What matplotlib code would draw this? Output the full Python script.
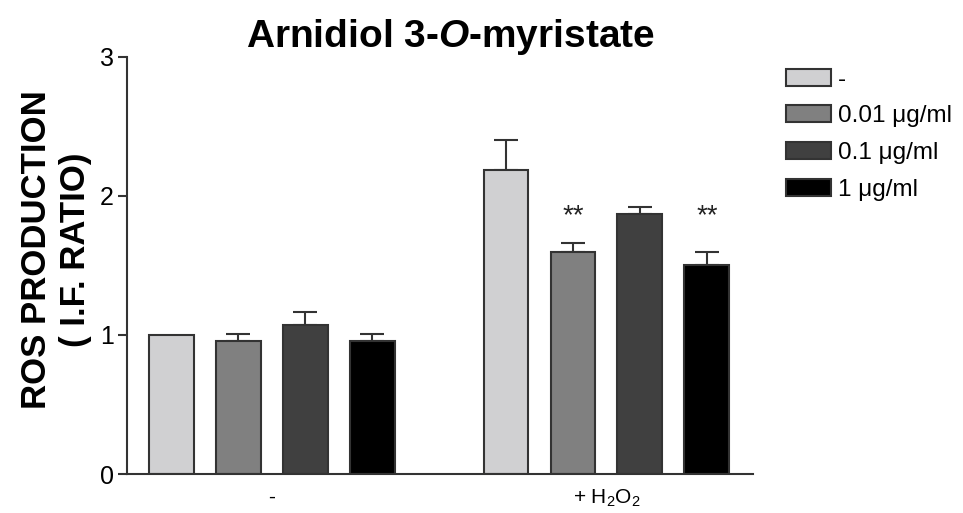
import matplotlib
matplotlib.use("Agg")
import matplotlib.pyplot as plt
from matplotlib.patches import Patch

plt.rcParams['font.family'] = ['Liberation Sans', 'DejaVu Sans']
plt.rcParams['mathtext.fontset'] = 'custom'
plt.rcParams['mathtext.rm'] = 'Liberation Sans'
plt.rcParams['mathtext.it'] = 'Liberation Sans:italic'
plt.rcParams['mathtext.bf'] = 'Liberation Sans:bold'
plt.rcParams['mathtext.bfit'] = 'Liberation Sans:italic:bold'

groups = ['-', '+ H$_2$O$_2$']
treatments = ['-', '0.01 \u03bcg/ml', '0.1 \u03bcg/ml', '1 \u03bcg/ml']
colors = ['#d0d0d2', '#808080', '#404040', '#000000']
values_ctrl = [1.0, 0.96, 1.07, 0.96]
errors_ctrl = [0.0, 0.05, 0.095, 0.05]
values_h2o2 = [2.19, 1.60, 1.87, 1.50]
errors_h2o2 = [0.21, 0.065, 0.05, 0.10]
signif_h2o2 = ['', '**', '', '**']

fig = plt.figure(figsize=(9.63, 5.13), dpi=100)
ax = fig.add_axes([0.132, 0.076, 0.650, 0.813])

edge = '#333333'
group_starts = [0, 5]
for g, (vals, errs) in enumerate([(values_ctrl, errors_ctrl), (values_h2o2, errors_h2o2)]):
    for i, (v, e) in enumerate(zip(vals, errs)):
        x = group_starts[g] + i
        ax.bar(x, v, width=0.67, color=colors[i], edgecolor=edge, linewidth=1.5, zorder=2)
        if e > 0:
            ax.errorbar(x, v, yerr=[[0], [e]], fmt='none', ecolor=edge,
                        elinewidth=1.5, capsize=8.3, capthick=1.5, zorder=1)
for i, s in enumerate(signif_h2o2):
    if s:
        ax.text(group_starts[1] + i, 1.855, s, ha='center', va='center', fontsize=20, color='#222222')

ax.set_xlim(-0.66, 8.69)
ax.set_ylim(0, 3)
ax.set_yticks([0, 1, 2, 3])
ax.set_xticks([1.5, 6.5])
ax.set_xticklabels(groups, fontsize=15)
ax.tick_params(axis='x', length=0, pad=10)
ax.tick_params(axis='y', labelsize=18, length=6.5, width=1.5, color=edge, pad=3)
for sp in ['top', 'right']:
    ax.spines[sp].set_visible(False)
for sp in ['left', 'bottom']:
    ax.spines[sp].set_linewidth(1.5)
    ax.spines[sp].set_color(edge)

ax.set_ylabel('ROS PRODUCTION\n( I.F. RATIO)', fontsize=25, fontweight='bold', labelpad=6, linespacing=1.2)
ax.yaxis.label.set_y(0.538)
ax.set_title('Arnidiol 3-$\\mathbfit{O}$-myristate', fontsize=28, fontweight='bold', pad=6, x=0.516)

handles = [Patch(facecolor=c, edgecolor=edge, linewidth=1.5) for c in colors]
fig.legend(handles, treatments, loc='upper left', bbox_to_anchor=(0.806, 0.885),
           frameon=False, fontsize=17.5, handlelength=1.85, handleheight=0.7,
           labelspacing=0.6, handletextpad=0.3, borderaxespad=0)

fig.savefig('out.png', dpi=100)
